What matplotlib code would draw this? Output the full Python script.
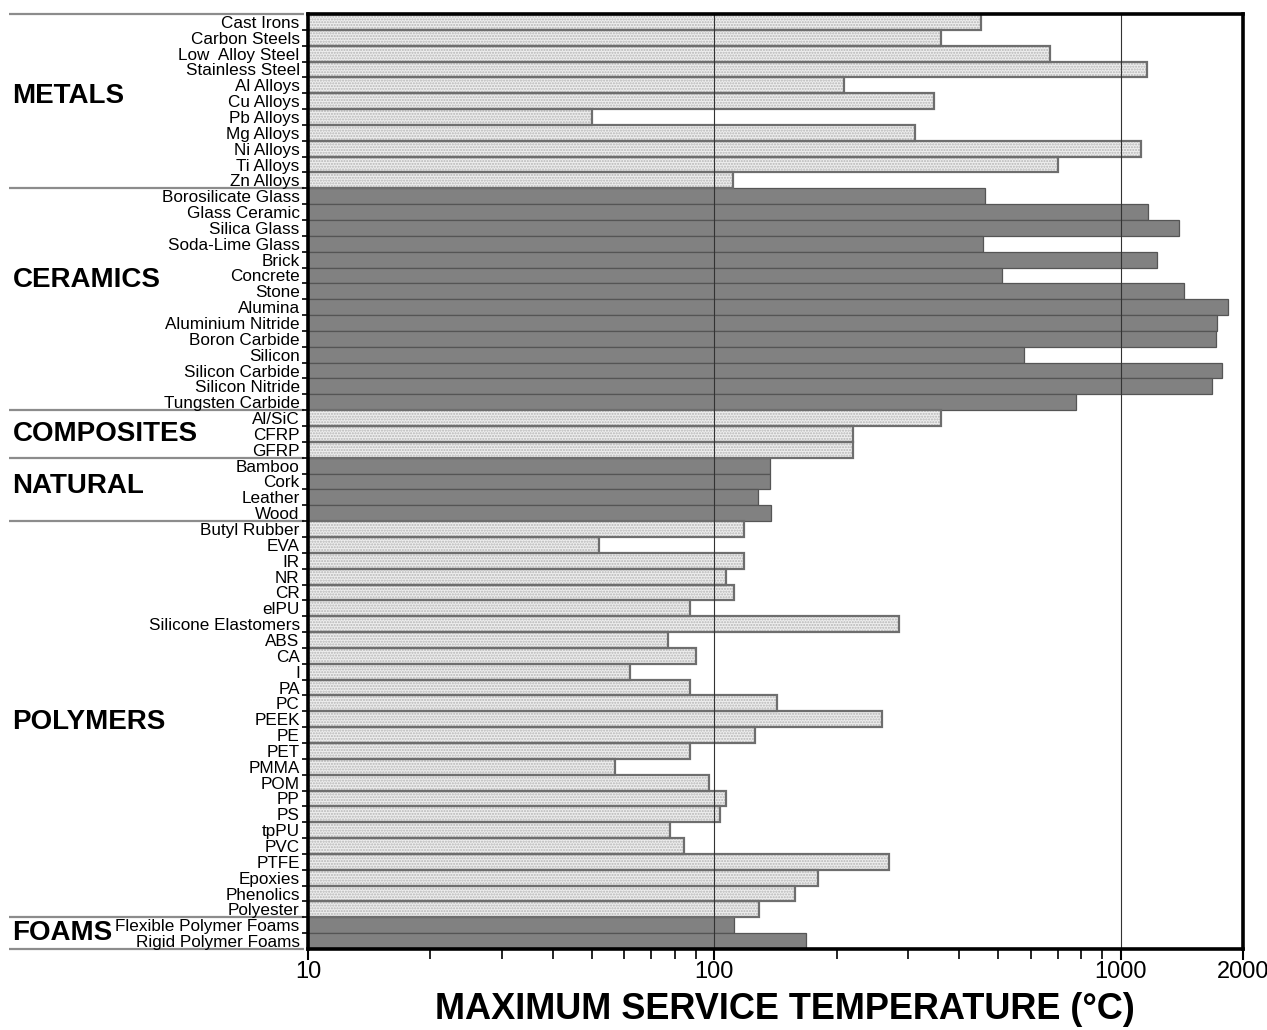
import matplotlib
matplotlib.use("Agg")
import matplotlib.pyplot as plt
from matplotlib.ticker import FixedLocator, NullFormatter
import matplotlib.transforms as mtransforms

# ---------------- data ----------------
metals = ["Cast Irons", "Carbon Steels", "Low  Alloy Steel", "Stainless Steel", "Al Alloys",
          "Cu Alloys", "Pb Alloys", "Mg Alloys", "Ni Alloys", "Ti Alloys", "Zn Alloys"]
metals_t = [453, 362, 671, 1159, 208, 348, 50, 312, 1122, 703, 111]

ceramics = ["Borosilicate Glass", "Glass Ceramic", "Silica Glass", "Soda-Lime Glass", "Brick",
            "Concrete", "Stone", "Alumina", "Aluminium Nitride", "Boron Carbide", "Silicon",
            "Silicon Carbide", "Silicon Nitride", "Tungsten Carbide"]
ceramics_t = [463, 1170, 1393, 459, 1228, 511, 1429, 1837, 1730, 1720, 578, 1779, 1679, 777]

composites = ["Al/SiC", "CFRP", "GFRP"]
composites_t = [362, 219, 219]

natural = ["Bamboo", "Cork", "Leather", "Wood"]
natural_t = [137, 137, 128, 138]

polymers = ["Butyl Rubber", "EVA", "IR", "NR", "CR", "elPU", "Silicone Elastomers", "ABS", "CA",
            "I", "PA", "PC", "PEEK", "PE", "PET", "PMMA", "POM", "PP", "PS", "tpPU", "PVC",
            "PTFE", "Epoxies", "Phenolics", "Polyester"]
polymers_t = [118, 52, 118, 107, 112, 87, 284, 77, 90, 62, 87, 143, 258, 126, 87, 57, 97, 107,
              103, 78, 84, 269, 180, 158, 129]

foams = ["Flexible Polymer Foams", "Rigid Polymer Foams"]
foams_t = [112, 168]

group_names = ["METALS", "CERAMICS", "COMPOSITES", "NATURAL", "POLYMERS", "FOAMS"]
group_items = [metals, ceramics, composites, natural, polymers, foams]
group_vals = [metals_t, ceramics_t, composites_t, natural_t, polymers_t, foams_t]
group_dark = [False, True, False, True, False, True]

x_ticks = [10, 100, 1000, 2000]
x_tick_labels = ["10", "100", "1000", "2000"]
x_label = "MAXIMUM SERVICE TEMPERATURE (\u00b0C)"

# ---------------- layout ----------------
W, H = 1267, 1030
fig = plt.figure(figsize=(W / 100, H / 100), dpi=100)
ax_l, ax_r, ax_t, ax_b = 308, 1243, 14, 949
ax = fig.add_axes([ax_l / W, 1 - ax_b / H, (ax_r - ax_l) / W, (ax_b - ax_t) / H])
ax.set_xscale("log")

font = ["Liberation Sans", "DejaVu Sans"]

label_offsets = {"METALS": -0.33, "CERAMICS": -1.22, "COMPOSITES": 0.0, "NATURAL": -0.2,
                 "POLYMERS": 0.2, "FOAMS": 0.0}

trans = mtransforms.blended_transform_factory(ax.transAxes, ax.transData)

labels_all = []
row = 0
boundaries = [-0.5]
for name, items, vals, dark in zip(group_names, group_items, group_vals, group_dark):
    ys = list(range(row, row + len(items)))
    if dark:
        ax.barh(ys, vals, height=1.0, color="#818181", edgecolor="#555555",
                linewidth=0.9, zorder=2)
    else:
        ax.barh(ys, vals, height=1.0, color="#eeeeee", edgecolor="#b5b5b5", hatch="......",
                linewidth=0, zorder=2)
        ax.barh(ys, vals, height=1.0, fill=False, edgecolor="#6e6e6e", linewidth=1.6, zorder=2.5)
    labels_all.extend(items)
    center = row + (len(items) - 1) / 2 + label_offsets[name]
    ax.text(-0.316, center, name, transform=trans, ha="left", va="center",
            fontsize=20, fontweight="bold", family=font)
    row += len(items)
    boundaries.append(row - 0.5)

n = row
ax.set_ylim(n - 0.5, -0.5)
ax.set_xlim(10, 2000)

# group separator lines to the left of the axes
for b in boundaries:
    ax.plot([-0.320, -0.004], [b, b], transform=trans, color="#8c8c8c", lw=1.6,
            clip_on=False, zorder=1, solid_capstyle="butt")

# vertical grid lines
for g in (100, 1000):
    ax.axvline(g, color="#333333", lw=0.8, zorder=4)

# y ticks / labels
ax.set_yticks(range(n))
ax.set_yticklabels(labels_all, fontsize=12.3, family=font)
ax.tick_params(axis="y", which="major", length=0, pad=6)
ax.yaxis.set_minor_locator(FixedLocator([i + 0.5 for i in range(n - 1)]))
ax.tick_params(axis="y", which="minor", length=4, width=1.2, direction="out", color="black")

# x ticks
ax.xaxis.set_major_locator(FixedLocator(x_ticks))
ax.set_xticklabels(x_tick_labels, fontsize=17, family=font)
minor = [v * d for d in (10, 100) for v in range(2, 10)]
ax.xaxis.set_minor_locator(FixedLocator(minor))
ax.xaxis.set_minor_formatter(NullFormatter())
ax.tick_params(axis="x", which="major", length=8, width=1.5, pad=1)
ax.tick_params(axis="x", which="minor", length=7, width=1.2)

ax.set_xlabel(x_label, fontsize=26, fontweight="bold", family=font)
ax.xaxis.set_label_coords(0.51, -0.046)
ax.xaxis.label.set_va("top")

for s in ax.spines.values():
    s.set_linewidth(2.6)
    s.set_color("black")
    s.set_zorder(5)

fig.savefig("out.png", dpi=100)
